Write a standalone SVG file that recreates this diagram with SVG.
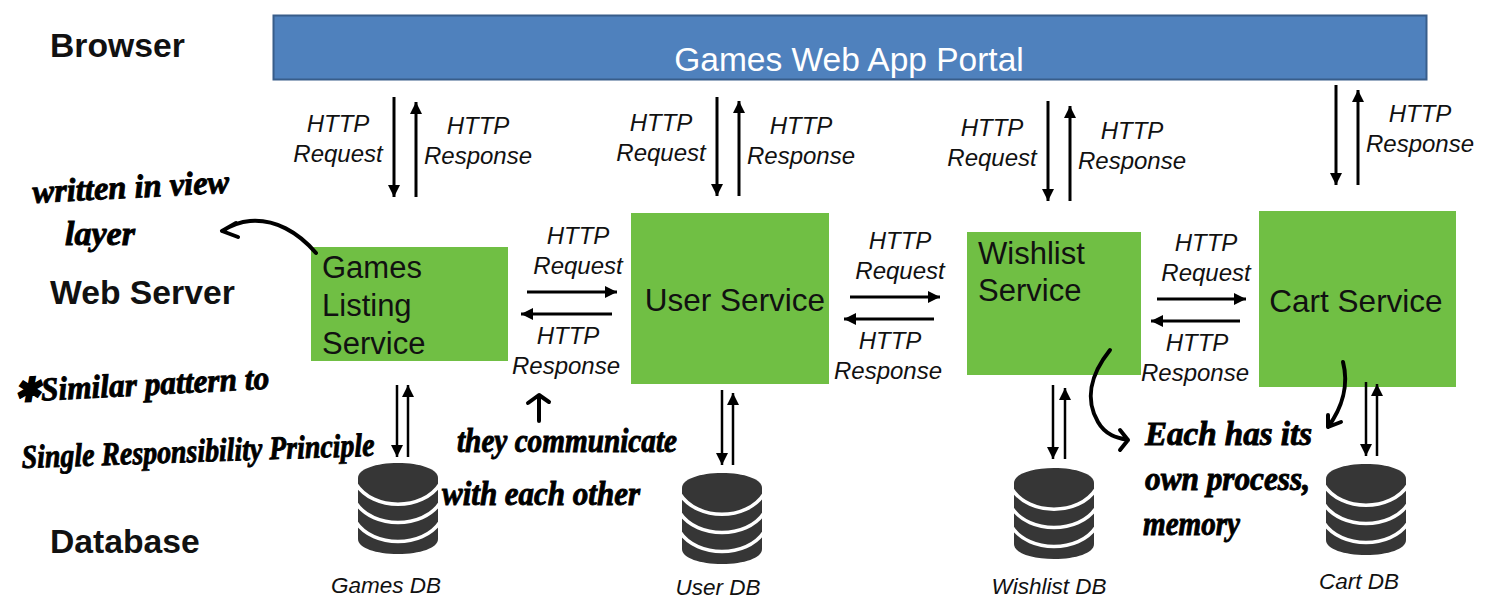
<svg xmlns="http://www.w3.org/2000/svg" width="1485" height="610" viewBox="0 0 1485 610">
<style>
text{font-family:"Liberation Sans",Arial,sans-serif;fill:#111}
.layer{font-weight:700;font-size:33.700px}
.svc{font-size:31px}
.big{font-size:31.500px}
.http{font-style:italic;font-size:24px;text-anchor:middle}
.db{font-style:italic;font-size:22.500px;text-anchor:middle}
.hand{font-family:"Liberation Serif",serif;font-style:italic;font-weight:700;font-size:33px;fill:#000;stroke:#000;stroke-width:.9}
.g{fill:#70bf44}
.c{fill:none;stroke:#000;stroke-width:3;marker-end:url(#ah)}
.i{fill:none;stroke:#000;stroke-width:2.500;marker-end:url(#ah)}
.ink{fill:none;stroke:#000;stroke-width:4;stroke-linecap:round;stroke-linejoin:round}
</style>
<defs>
<marker id="ah" markerUnits="userSpaceOnUse" markerWidth="14" markerHeight="12" refX="12" refY="6" orient="auto"><path d="M0,0L12,6L0,12z" fill="#000"/></marker>
<g id="cyl">
<path d="M-40,15C-40,6-22,0 0,0S40,6 40,15V76C40,85 22,91 0,91S-40,85-40,76z" fill="#363636"/>
<g fill="none" stroke="#fff" stroke-width="3.500"><path d="M-42,21C-25,48 25,48 42,21"/><path d="M-42,40C-25,66 25,66 42,40"/><path d="M-42,59C-25,85 25,85 42,59"/></g>
</g>
</defs>
<rect width="1485" height="610" fill="#fff"/>
<g id="layers"><text class="layer" x="50" y="57">Browser</text><text class="layer" x="50" y="304">Web Server</text><text class="layer" x="50" y="553">Database</text></g>
<g id="portal"><rect x="273.500" y="15.500" width="1153" height="64" fill="#4f81bd" stroke="#385d8a" stroke-width="2"/><text x="849" y="71" font-size="33.500" text-anchor="middle" style="fill:#fff">Games Web App Portal</text></g>
<g id="games-service"><rect class="g" x="311" y="247" width="197" height="114"/><text class="svc" x="322" y="278">Games</text><text class="svc" x="322" y="316">Listing</text><text class="svc" x="322" y="354">Service</text></g>
<g id="user-service"><rect class="g" x="631" y="213" width="198" height="171"/><text class="big" x="735" y="311" text-anchor="middle">User Service</text></g>
<g id="wishlist-service"><rect class="g" x="967" y="232" width="174" height="143"/><text class="svc" x="978" y="264">Wishlist</text><text class="svc" x="978" y="301">Service</text></g>
<g id="cart-service"><rect class="g" x="1259" y="211" width="197" height="176"/><text class="big" x="1356" y="312" text-anchor="middle">Cart Service</text></g>
<g id="games-db"><use href="#cyl" x="398" y="463"/><text class="db" x="386" y="593">Games DB</text></g>
<g id="user-db"><use href="#cyl" x="722" y="473"/><text class="db" x="718" y="595">User DB</text></g>
<g id="wishlist-db"><use href="#cyl" x="1054" y="468"/><text class="db" x="1049" y="594">Wishlist DB</text></g>
<g id="cart-db"><use href="#cyl" x="1366" y="464"/><text class="db" x="1359" y="589">Cart DB</text></g>
<g id="connectors">
<path class="c" d="M394,97V197"/><path class="c" d="M416,197V102"/>
<path class="c" d="M717,97V196"/><path class="c" d="M739,196V101"/>
<path class="c" d="M1048,101V201"/><path class="c" d="M1070,201V106"/>
<path class="c" d="M1336,85V185"/><path class="c" d="M1358,185V90"/>
<path class="c" d="M527,292H617"/><path class="c" d="M612,314H521"/>
<path class="c" d="M850,297H940"/><path class="c" d="M934,319H844"/>
<path class="c" d="M1157,299H1246"/><path class="c" d="M1240,321H1151"/>
<path class="i" d="M397,385V457"/><path class="i" d="M408,457V385"/>
<path class="i" d="M722,390V465"/><path class="i" d="M733,465V393"/>
<path class="i" d="M1053,385V459"/><path class="i" d="M1065,459V388"/>
<path class="i" d="M1366,382V456"/><path class="i" d="M1377,456V384"/>
</g>
<g id="labels">
<text class="http" x="338" y="132">HTTP</text><text class="http" x="338" y="162">Request</text>
<text class="http" x="478" y="134">HTTP</text><text class="http" x="478" y="164">Response</text>
<text class="http" x="661" y="131">HTTP</text><text class="http" x="661" y="161">Request</text>
<text class="http" x="801" y="134">HTTP</text><text class="http" x="801" y="164">Response</text>
<text class="http" x="992" y="136">HTTP</text><text class="http" x="992" y="166">Request</text>
<text class="http" x="1132" y="139">HTTP</text><text class="http" x="1132" y="169">Response</text>
<text class="http" x="1420" y="122">HTTP</text><text class="http" x="1420" y="152">Response</text>
<text class="http" x="578" y="244">HTTP</text><text class="http" x="578" y="274">Request</text>
<text class="http" x="568" y="344">HTTP</text><text class="http" x="566" y="374">Response</text>
<text class="http" x="900" y="249">HTTP</text><text class="http" x="900" y="279">Request</text>
<text class="http" x="890" y="349">HTTP</text><text class="http" x="888" y="379">Response</text>
<text class="http" x="1206" y="251">HTTP</text><text class="http" x="1206" y="281">Request</text>
<text class="http" x="1197" y="351">HTTP</text><text class="http" x="1195" y="381">Response</text>
</g>
<g id="handwriting">
<path class="ink" d="M316,253C298,232 275,219 250,221C238,222 230,226 222,231M236,223L222,231L238,237"/>
<path class="ink" d="M539,421V396M528,403L539,395L549,402"/>
<path class="ink" d="M1110,350C1090,375 1085,400 1098,422C1106,436 1118,438 1128,440M1120,430L1128,440L1120,450"/>
<path class="ink" d="M1343,362C1349,385 1342,408 1328,427M1328,415L1328,427L1341,422"/>
<text class="hand" x="33" y="203" textLength="197" lengthAdjust="spacingAndGlyphs" transform="rotate(-3 33 203)">written in view</text>
<text class="hand" x="65" y="245" textLength="70" lengthAdjust="spacingAndGlyphs">layer</text>
<text class="hand" x="15" y="402" textLength="255" lengthAdjust="spacingAndGlyphs" transform="rotate(-3 15 402)">✱Similar pattern to</text>
<text class="hand" x="22" y="468" textLength="353" lengthAdjust="spacingAndGlyphs" transform="rotate(-2 22 468)">Single Responsibility Principle</text>
<text class="hand" x="457" y="452" textLength="220" lengthAdjust="spacingAndGlyphs">they communicate</text>
<text class="hand" x="442" y="505" textLength="198" lengthAdjust="spacingAndGlyphs">with each other</text>
<text class="hand" x="1145" y="445" textLength="167" lengthAdjust="spacingAndGlyphs">Each has its</text>
<text class="hand" x="1145" y="490" textLength="165" lengthAdjust="spacingAndGlyphs">own process,</text>
<text class="hand" x="1143" y="535" textLength="97" lengthAdjust="spacingAndGlyphs">memory</text>
</g>
</svg>
